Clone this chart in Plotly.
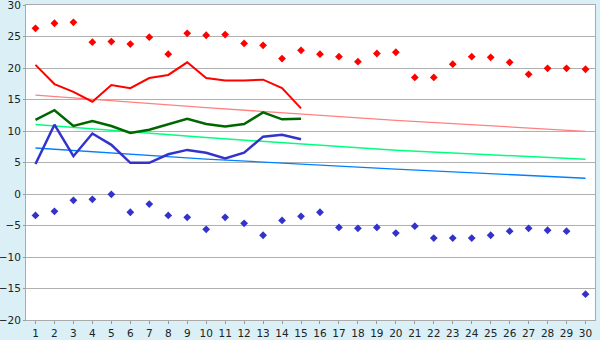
import plotly.graph_objects as go

days = list(range(1, 31))

max_pts = [26.3, 27.1, 27.25, 24.1, 24.2, 23.8, 24.9, 22.2, 25.5, 25.2,
           25.3, 23.9, 23.6, 21.5, 22.8, 22.2, 21.8, 21.0, 22.3, 22.5,
           18.5, 18.5, 20.6, 21.8, 21.7, 20.9, 19.0, 19.95, 19.95, 19.8]
min_pts = [-3.4, -2.75, -1.0, -0.85, -0.05, -2.9, -1.6, -3.4, -3.7, -5.6,
           -3.7, -4.65, -6.55, -4.2, -3.55, -2.9, -5.3, -5.45, -5.3, -6.2,
           -5.1, -7.0, -7.0, -7.0, -6.55, -5.9, -5.45, -5.75, -5.9, -15.9]

line_days = list(range(1, 16))
red_line = [20.5, 17.45, 16.2, 14.65, 17.3, 16.8, 18.4, 18.9, 20.9, 18.4,
            18.0, 18.0, 18.15, 16.8, 13.6]
green_line = [11.75, 13.3, 10.8, 11.6, 10.8, 9.7, 10.2, 11.1, 11.95, 11.1,
              10.7, 11.1, 12.95, 11.85, 11.95]
blue_line = [4.75, 11.0, 6.0, 9.6, 7.8, 4.95, 4.95, 6.3, 7.0, 6.55,
             5.65, 6.55, 9.1, 9.4, 8.7]

trend_days = [1, 10, 20, 30]
red_trend = [15.7, 13.7, 11.7, 9.95]
green_trend = [11.05, 8.95, 6.95, 5.5]
blue_trend = [7.3, 5.55, 3.95, 2.5]

fig = go.Figure()

fig.add_trace(go.Scatter(x=trend_days, y=red_trend, mode="lines",
                         line=dict(color="#ff8080", width=1.3), hoverinfo="skip"))
fig.add_trace(go.Scatter(x=trend_days, y=green_trend, mode="lines",
                         line=dict(color="#00ff80", width=1.5), hoverinfo="skip"))
fig.add_trace(go.Scatter(x=trend_days, y=blue_trend, mode="lines",
                         line=dict(color="#0080ff", width=1.3), hoverinfo="skip"))

fig.add_trace(go.Scatter(x=line_days, y=red_line, mode="lines",
                         line=dict(color="#ff0000", width=2)))
fig.add_trace(go.Scatter(x=line_days, y=green_line, mode="lines",
                         line=dict(color="#006600", width=2.5)))
fig.add_trace(go.Scatter(x=line_days, y=blue_line, mode="lines",
                         line=dict(color="#3333cc", width=2.5)))

fig.add_trace(go.Scatter(x=days, y=max_pts, mode="markers",
                         marker=dict(symbol="diamond", size=6, color="#ff0000")))
fig.add_trace(go.Scatter(x=days, y=min_pts, mode="markers",
                         marker=dict(symbol="diamond", size=6, color="#3333cc")))

tick_font = dict(family="DejaVu Sans", size=10.5, color="#222222")

fig.update_layout(
    width=600, height=340,
    margin=dict(l=26, r=5, t=5, b=20, autoexpand=False),
    paper_bgcolor="#daf0f6",
    plot_bgcolor="#ffffff",
    showlegend=False,
    xaxis=dict(range=[0.5, 30.5], tickmode="array", tickvals=days,
               ticktext=[str(d) for d in days], showgrid=False,
               ticks="outside", ticklen=3, tickcolor="#999999",
               showline=True, linecolor="#aaaaaa", linewidth=1, mirror=True,
               tickfont=tick_font, zeroline=False, fixedrange=True,
               automargin=False, ticklabeloverflow="allow"),
    yaxis=dict(range=[-20, 30], dtick=5, tick0=0, showgrid=True,
               gridcolor="#b0b0b0", gridwidth=1,
               ticks="outside", ticklen=2, tickcolor="#999999",
               showline=True, linecolor="#aaaaaa", linewidth=1, mirror=True,
               tickfont=tick_font, zeroline=False, fixedrange=True,
               automargin=False, ticklabeloverflow="allow"),
)

fig.write_html("out.html")
